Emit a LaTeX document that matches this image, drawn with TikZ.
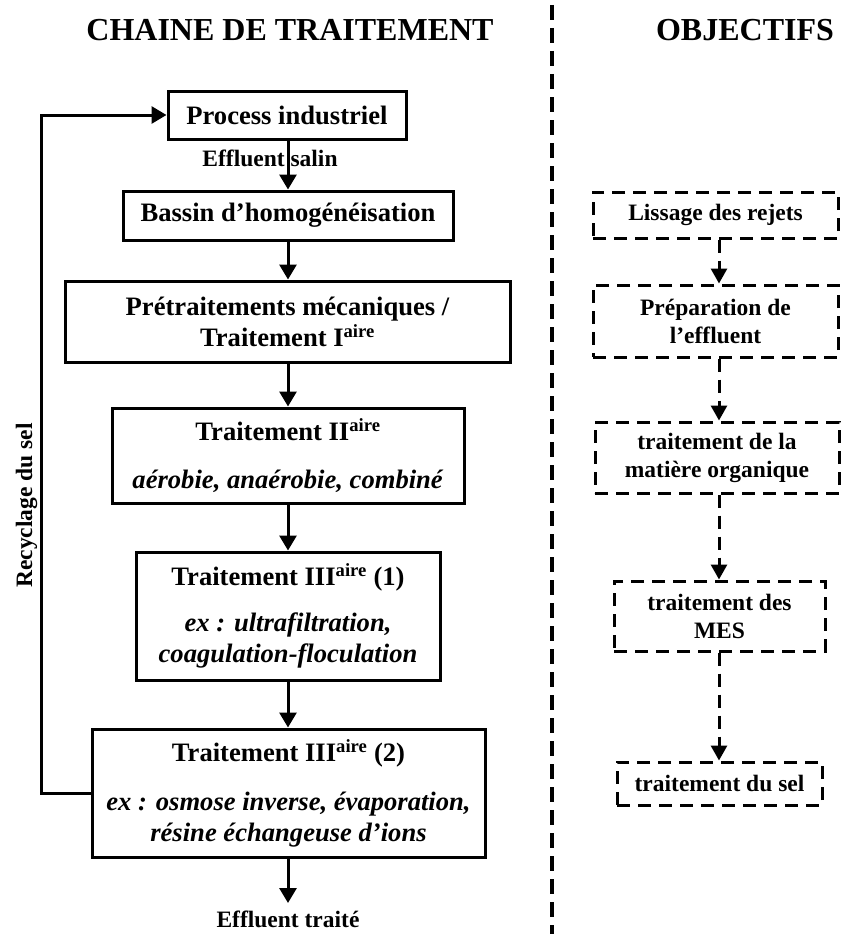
\documentclass[tikz,border=0pt]{standalone}
\usepackage{fontspec}
\setmainfont{Liberation Serif}
\usetikzlibrary{arrows.meta}
\newcommand\ttlfont{\bfseries\fontsize{32}{36}\selectfont}
\newcommand\bxfont{\bfseries\fontsize{26.6}{31}\selectfont}
\newcommand\objfont{\bfseries\fontsize{23.5}{28}\selectfont}
\newcommand\lblfont{\bfseries\fontsize{23.5}{28}\selectfont}
\begin{document}
\begin{tikzpicture}[x=1pt,y=-1pt,
  box/.style={draw, line width=3pt, inner sep=0pt, align=center, font=\bxfont},
  objbox/.style={draw, line width=3pt, dash pattern=on 13pt off 8pt, inner sep=0pt, align=center, font=\objfont},
  arr/.style={line width=3pt, -{Triangle[length=15pt,width=17pt]}},
  darr/.style={line width=3pt, dash pattern=on 13pt off 8pt, -{Triangle[length=15pt,width=16pt]}},
  lbl/.style={inner sep=0pt, font=\lblfont},
  ttl/.style={inner sep=0pt, font=\ttlfont, anchor=base},
  divider/.style={line width=3.5pt, dash pattern=on 15pt off 8pt}
]
\useasboundingbox (0,0) rectangle (842,934);
% axes
\coordinate (lx) at (288,0);
\coordinate (rx) at (719,0);
\coordinate (rl) at (41,0);
% titles
\node[ttl] (t1) at (290,41) {CHAINE DE TRAITEMENT};
\node[ttl] (t2) at (745,41) {OBJECTIFS};
% divider
\coordinate (d1) at (552,5);
\coordinate (d2) at (552,934);
\draw[divider] (d1) -- (d2);
% left chain
\node[box, minimum width=238pt, minimum height=48pt] (b1) at (287,115) {Process industriel};
\node[box, minimum width=330pt, minimum height=49pt] (b2) at (288,215.5) {Bassin d’homogénéisation};
\node[box, minimum width=445pt, minimum height=81pt] (b3) at (287.5,321.5) {Prétraitements mécaniques /\\Traitement I\textsuperscript{aire}};
\node[box, minimum width=352pt, minimum height=95pt] (b4) at (288,455.5) {Traitement II\textsuperscript{aire}\\[17pt]\textit{aérobie, anaérobie, combiné}};
\node[box, minimum width=304pt, minimum height=128pt] (b5) at (288,616) {Traitement III\textsuperscript{aire} (1)\\[15pt]\textit{ex : ultrafiltration,}\\\textit{coagulation-floculation}};
\node[box, minimum width=393pt, minimum height=128pt] (b6) at (288.5,793) {Traitement III\textsuperscript{aire} (2)\\[18pt]\textit{ex : osmose inverse, évaporation,}\\\textit{résine échangeuse d’ions}};
% labels
\node[lbl, anchor=base] (es) at (270,166) {Effluent salin};
\node[lbl, anchor=base] (et) at (288,927) {Effluent traité};
\node[lbl, anchor=base, rotate=90] (rs) at (32,505.5) {Recyclage du sel};
\coordinate (out) at (288,903);
% connectors
\draw[arr] (b1.south -| lx) -- (b2.north -| lx);
\draw[arr] (b2.south -| lx) -- (b3.north -| lx);
\draw[arr] (b3.south -| lx) -- (b4.north -| lx);
\draw[arr] (b4.south -| lx) -- (b5.north -| lx);
\draw[arr] (b5.south -| lx) -- (b6.north -| lx);
\draw[arr] (b6.south -| lx) -- (out);
\draw[arr] (b6.west) -- (b6.west -| rl) |- (b1.west);
% objectives
\node[objbox, minimum width=245pt, minimum height=46pt] (r1) at (715.5,215) {Lissage des rejets};
\node[objbox, minimum width=245pt, minimum height=72pt] (r2) at (715.5,321) {Préparation de\\l’effluent};
\node[objbox, minimum width=244pt, minimum height=71pt] (r3) at (717,457.5) {traitement de la\\matière organique};
\node[objbox, minimum width=211pt, minimum height=70pt] (r4) at (719.5,616) {traitement des\\MES};
\node[objbox, minimum width=205pt, minimum height=43pt] (r5) at (719.5,783.5) {traitement du sel};
\draw[darr] (r1.south -| rx) -- (r2.north -| rx);
\draw[darr] (r2.south -| rx) -- (r3.north -| rx);
\draw[darr] (r3.south -| rx) -- (r4.north -| rx);
\draw[darr] (r4.south -| rx) -- (r5.north -| rx);
\end{tikzpicture}
\end{document}
